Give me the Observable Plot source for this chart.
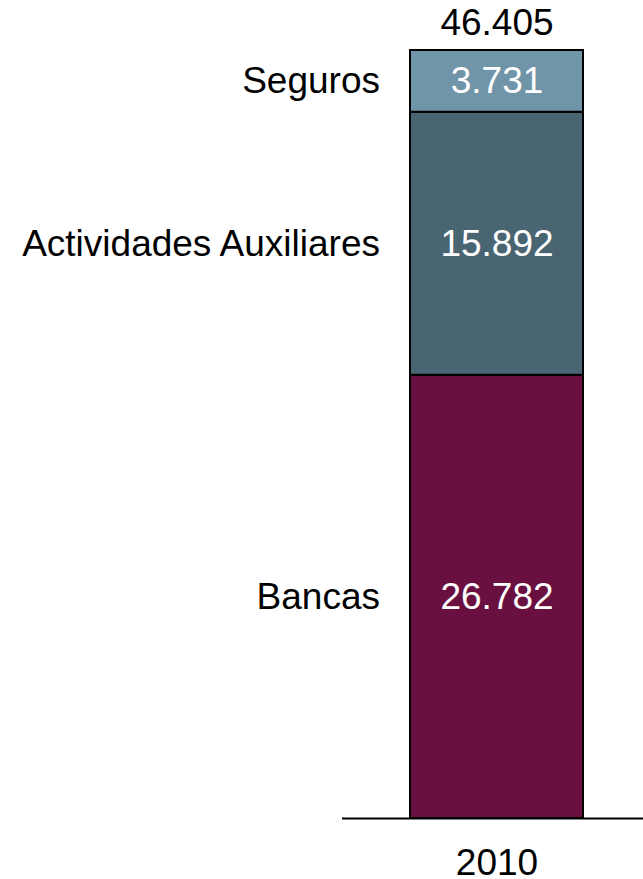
<!DOCTYPE html>
<html>
<head>
<meta charset="utf-8">
<script src="https://cdn.jsdelivr.net/npm/d3@7"></script>
<script src="https://cdn.jsdelivr.net/npm/@observablehq/plot@0.6"></script>
<style>
  html, body { margin: 0; padding: 0; background: #fff; }
  svg { display: block; }
</style>
</head>
<body>
<div id="chart"></div>
<script>
const years = ["2010"];
const categories = ["Bancas", "Actividades Auxiliares", "Seguros"];
const values = [26782, 15892, 3731];
const colors = ["#6a1040", "#4a6572", "#7094a8"];
const total = [46405];

const data = categories.map((c, i) => ({year: years[0], category: c, value: values[i]}));
const totals = years.map((y, i) => ({year: y, total: total[i]}));

const fmt = d3.formatLocale({decimal: ",", thousands: ".", grouping: [3], currency: ["", "€"]}).format(",d");
const fontSize = 37;

const chart = Plot.plot({
  width: 643,
  height: 879,
  marginTop: 50,
  marginBottom: 61,
  marginLeft: 342,
  marginRight: 0,
  style: {fontFamily: "'Liberation Sans', Arial, sans-serif", fontSize: fontSize + "px", background: "#fff"},
  x: {domain: years, range: [410, 583], padding: 0, label: null},
  y: {domain: [0, total[0]], axis: null},
  color: {domain: categories, range: colors},
  marks: [
    Plot.barY(data, Plot.stackY({x: "year", y: "value", fill: "category", z: "category", order: categories, stroke: "#000", strokeWidth: 2})),
    Plot.text(data, Plot.stackY({x: "year", y: "value", z: "category", order: categories, text: d => fmt(d.value), fill: "#fff", fontSize})),
    Plot.text(data, Plot.stackY({x: "year", y: "value", z: "category", order: categories, text: "category", fill: "#000", textAnchor: "end", dx: -117, fontSize})),
    Plot.text(totals, {x: "year", y: "total", text: d => fmt(d.total), dy: -27, fill: "#000", fontSize}),
    Plot.ruleY([0], {stroke: "#000", strokeWidth: 2}),
    Plot.axisX({tickSize: 0, tickPadding: 30, label: null, fontSize, fill: "#000"})
  ]
});
document.getElementById("chart").appendChild(chart);
</script>
</body>
</html>
